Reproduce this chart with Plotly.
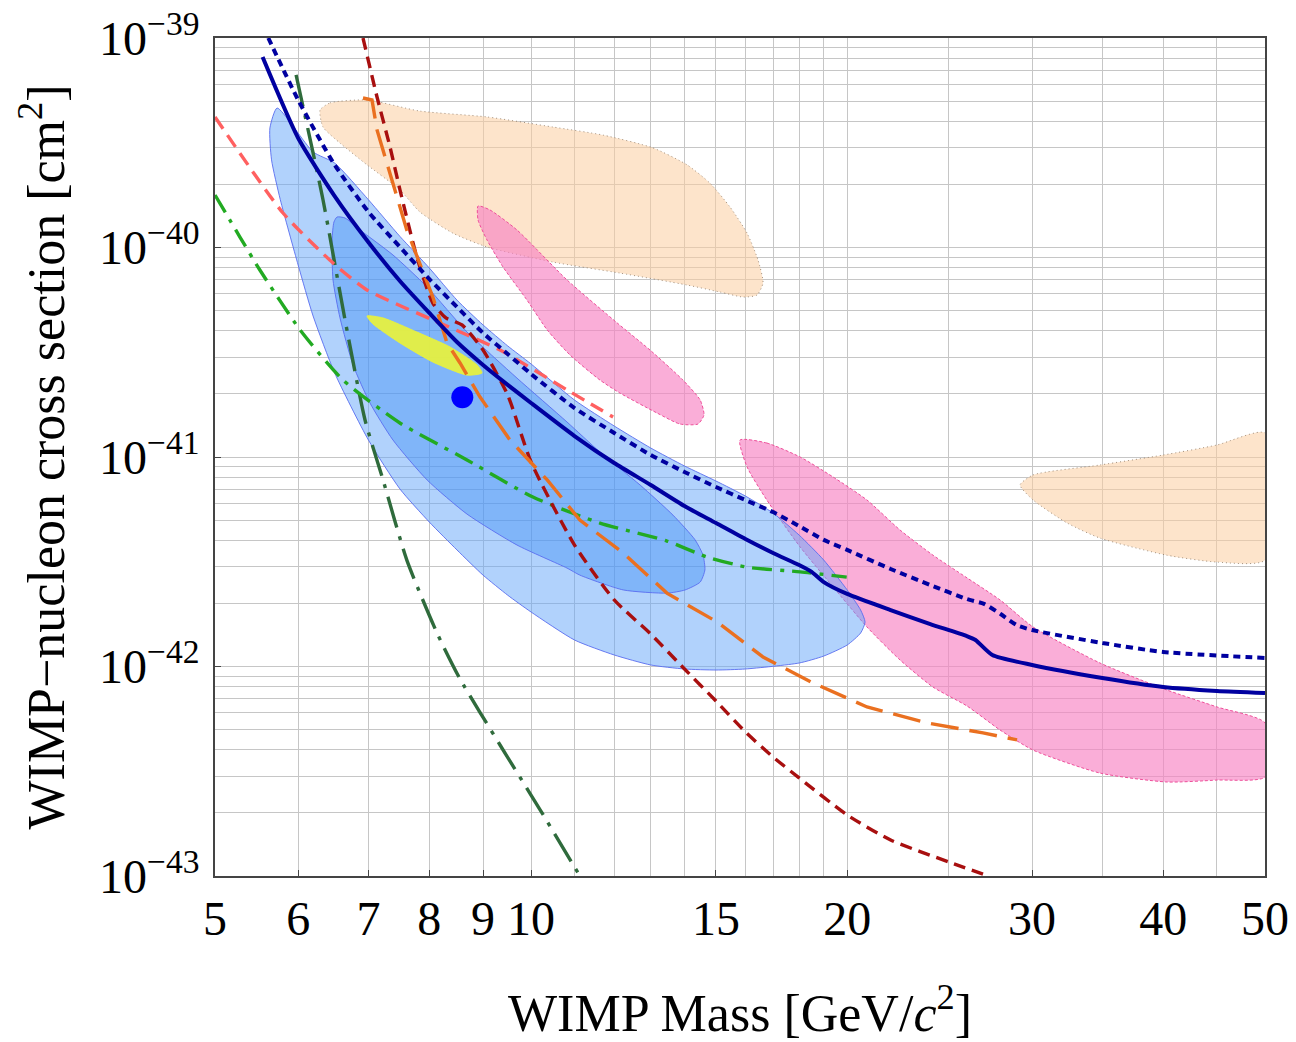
import plotly.graph_objects as go

# ---------------- data (WIMP mass in GeV/c^2, cross section in cm^2) ----------------
solid_x = [5.55, 6, 6.5, 7, 7.5, 8, 8.5, 9, 9.5, 10, 11, 12, 13, 14, 15, 16, 17, 18, 18.5, 19, 20,
           22, 24, 26, 26.5, 27.5, 30, 35, 40, 45, 50]
solid_y = [8.11e-40, 3.33e-40, 1.76e-40, 1.06e-40, 6.92e-41, 4.87e-41, 3.54e-41, 2.75e-41, 2.21e-41,
           1.81e-41, 1.259e-41, 9.36e-42, 7.35e-42, 5.83e-42, 4.84e-42, 4.06e-42, 3.48e-42, 3.05e-42,
           2.83e-42, 2.53e-42, 2.22e-42, 1.86e-42, 1.595e-42, 1.398e-42, 1.338e-42, 1.135e-42,
           1.017e-42, 8.81e-43, 7.98e-43, 7.64e-43, 7.47e-43]

dotted_x = [5.62, 6, 6.5, 7, 7.5, 8, 8.5, 9, 9.5, 10, 11, 12, 13, 14, 15, 16, 17, 18, 19, 20, 22, 24,
            26, 27, 28, 29, 30, 35, 40, 50]
dotted_y = [1e-39, 5.06e-40, 2.48e-40, 1.48e-40, 1.006e-40, 7.07e-41, 5.20e-41, 3.91e-41, 3.10e-41,
            2.49e-41, 1.713e-41, 1.302e-41, 1.022e-41, 8.48e-42, 7.19e-42, 6.23e-42, 5.46e-42,
            4.68e-42, 4.02e-42, 3.60e-42, 2.92e-42, 2.45e-42, 2.10e-42, 1.99e-42, 1.78e-42,
            1.578e-42, 1.493e-42, 1.295e-42, 1.173e-42, 1.098e-42]

darkred_x = [6.917, 7.133, 7.339, 7.502, 7.784, 8.062, 8.297, 8.595, 9, 9.5, 10, 11, 12, 13, 14, 15,
             16, 17, 18, 20, 22, 25, 27.24]
darkred_y = [1e-39, 5.23e-40, 3.02e-40, 1.88e-40, 9.01e-41, 5.43e-41, 4.61e-41, 4.27e-41, 3.24e-41,
             1.976e-41, 9.46e-42, 3.80e-42, 2.08e-42, 1.429e-42, 9.73e-43, 6.84e-43, 4.87e-43,
             3.70e-43, 2.94e-43, 1.955e-43, 1.485e-43, 1.166e-43, 1e-43]

orange_x = [6.917, 7.055, 7.133, 7.371, 7.615, 8.062, 8.316, 8.557, 8.941, 9.548, 10.36, 11.13,
            12.24, 13.47, 15.04, 16.63, 18.56, 20.89, 23.83, 26.94, 29.03]
orange_y = [5.17e-40, 5.06e-40, 3.64e-40, 2.10e-40, 1.211e-40, 5.80e-41, 3.50e-41, 2.81e-41,
            1.934e-41, 1.205e-41, 7.77e-42, 5.00e-42, 3.48e-42, 2.24e-42, 1.631e-42, 1.110e-42,
            8.34e-43, 6.41e-43, 5.38e-43, 4.82e-43, 4.46e-43]

salmon_x = [5.0, 5.804, 6.477, 6.978, 8.062, 9.342, 10.82, 11.97]
salmon_y = [4.20e-40, 1.461e-40, 8.43e-41, 6.27e-41, 4.51e-41, 3.24e-41, 2.09e-41, 1.552e-41]

green_x = [5.0, 5.281, 5.517, 6.026, 6.620, 7.5, 8.689, 10.04, 11.63, 13.47, 14.71, 16.06, 18.04, 19.98]
green_y = [1.78e-40, 1.122e-40, 7.81e-41, 4.04e-41, 2.33e-41, 1.453e-41, 9.68e-42, 6.44e-42,
           4.84e-42, 3.97e-42, 3.33e-42, 2.98e-42, 2.83e-42, 2.67e-42]

dkgreen_x = [5.973, 6.336, 6.650, 6.948, 7.228, 7.615, 8.136, 8.557, 9.342, 10.20, 11.13]
dkgreen_y = [6.66e-40, 1.69e-40, 4.51e-41, 1.502e-41, 7.77e-42, 3.22e-42, 1.445e-42, 8.72e-43,
             4.22e-43, 2.07e-43, 1e-43]

outer_x = [5.73, 6.2, 6.5, 7, 7.5, 8, 8.5, 9, 9.5, 10, 11, 12, 13, 14, 15, 16, 17, 18, 19, 20, 20.6,
           20.8, 20.6, 20, 19, 18, 16, 15, 14, 13, 12, 11, 10, 9.5, 9, 8.5, 8, 7.5, 7, 6.5, 6.2, 6,
           5.77, 5.66, 5.64]
outer_y = [4.63e-40, 2.86e-40, 2.53e-40, 1.69e-40, 1.13e-40, 7.98e-41, 5.61e-41, 4.27e-41, 3.39e-41,
           2.78e-41, 1.87e-41, 1.406e-41, 1.104e-41, 9.06e-42, 7.68e-42, 6.51e-42, 5.40e-42, 4.24e-42,
           3.22e-42, 2.32e-42, 1.86e-42, 1.63e-42, 1.445e-42, 1.266e-42, 1.122e-42, 1.039e-42,
           9.73e-43, 9.62e-43, 9.73e-43, 1.017e-42, 1.135e-42, 1.338e-42, 1.82e-42, 2.19e-42,
           2.73e-42, 3.60e-42, 4.89e-42, 7.04e-42, 1.205e-41, 2.52e-41, 4.71e-41, 8.25e-41,
           1.69e-40, 2.62e-40, 3.72e-40]

inner_x = [6.534, 6.650, 6.872, 7.387, 7.961, 8.689, 9.696, 10.82, 11.63, 12.70, 13.65, 14.33, 14.58,
           14.64, 14.49, 14.02, 13.47, 12.24, 11.13, 10.82, 9.696, 8.689, 7.961, 7.387, 7.024, 6.768,
           6.577, 6.477, 6.463, 6.49]
inner_y = [1.398e-40, 1.383e-40, 1.212e-40, 9.21e-41, 6.48e-41, 3.95e-41, 2.38e-41, 1.469e-41,
           1.056e-41, 7.35e-42, 5.28e-42, 4.02e-42, 3.40e-42, 2.89e-42, 2.53e-42, 2.32e-42, 2.24e-42,
           2.32e-42, 2.73e-42, 2.95e-42, 3.80e-42, 5.34e-42, 7.77e-42, 1.205e-41, 1.81e-41,
           2.75e-41, 4.61e-41, 7.0e-41, 1.086e-40, 1.323e-40]

yellow_x = [6.978, 7.228, 7.784, 8.371, 8.882, 8.980, 8.689, 8.062, 7.502, 7.071]
yellow_y = [4.71e-41, 4.61e-41, 3.95e-41, 3.35e-41, 2.75e-41, 2.52e-41, 2.46e-41, 2.84e-41,
            3.50e-41, 4.31e-41]

bestfit_x = [8.6]
bestfit_y = [1.93e-41]

peach1_x = [6.295, 6.434, 6.978, 7.837, 9.079, 10.49, 11.71, 13.06, 14.08, 14.80, 15.47, 16.06, 16.45,
            16.63, 16.41, 15.92, 15.13, 14.08, 12.15, 10.49, 9.079, 8.426, 7.837, 7.502, 6.978,
            6.577, 6.336]
peach1_y = [4.53e-40, 4.90e-40, 5.06e-40, 4.48e-40, 4.20e-40, 3.76e-40, 3.44e-40, 2.99e-40, 2.48e-40,
            2.03e-40, 1.56e-40, 1.17e-40, 8.71e-41, 6.77e-41, 5.93e-41, 5.80e-41, 6.13e-41, 6.62e-41,
            7.55e-41, 8.52e-41, 1.006e-40, 1.17e-40, 1.477e-40, 1.88e-40, 2.48e-40, 3.15e-40, 3.76e-40]

peach2_x = [29.22, 30.07, 34.82, 40, 45, 50, 50, 45, 40.3, 34.82, 32.4, 30.07]
peach2_y = [7.35e-42, 8.21e-42, 9.16e-42, 1.022e-41, 1.141e-41, 1.302e-41, 3.22e-42, 3.15e-42,
            3.40e-42, 4.10e-42, 4.84e-42, 6.23e-42]

pink1_x = [8.902, 9.139, 9.696, 10.82, 12.08, 12.98, 13.95, 14.49, 14.61, 14.42, 13.86, 13.18, 12.15,
           11.63, 10.89, 10.36, 9.911, 9.403, 9.079, 8.902]
pink1_y = [1.578e-40, 1.51e-40, 1.212e-40, 7.0e-41, 4.36e-41, 3.24e-41, 2.33e-41, 1.87e-41, 1.587e-41,
           1.437e-41, 1.437e-41, 1.622e-41, 2.02e-41, 2.33e-41, 3.07e-41, 4.04e-41, 5.61e-41,
           8.07e-41, 1.086e-40, 1.353e-40]

pink2_x = [15.81, 16.77, 18.04, 19.39, 20.89, 22.46, 24.14, 26.01, 27.96, 30.07, 34.82, 40.33, 45.01,
           50, 50, 45.01, 40.33, 34.82, 30.07, 27.96, 26.01, 24.14, 22.46, 20.89, 19.39, 18.04,
           16.77, 16.06]
pink2_y = [1.205e-41, 1.166e-41, 1.0e-41, 8.03e-42, 6.23e-42, 4.48e-42, 3.40e-42, 2.65e-42, 2.08e-42,
           1.543e-42, 1.039e-42, 7.72e-43, 6.41e-43, 5.38e-43, 2.97e-43, 2.87e-43, 2.81e-43,
           3.10e-43, 3.99e-43, 4.98e-43, 6.48e-43, 7.98e-43, 1.074e-42, 1.543e-42, 2.40e-42,
           3.72e-42, 6.23e-42, 8.96e-42]

x_ticks = [5, 6, 7, 8, 9, 10, 15, 20, 30, 40, 50]
x_ticktext = ["5", "6", "7", "8", "9", "10", "15", "20", "30", "40", "50"]
x_minor = [11, 12, 13, 14, 16, 17, 18, 19, 25, 35, 45]
y_exponents = [-43, -42, -41, -40, -39]

# ---------------- figure ----------------
FONT = "Liberation Serif, Times New Roman, serif"
fig = go.Figure()


def region(xs, ys, fill, line_color, dash, width=1):
    fig.add_trace(go.Scatter(x=xs + xs[:1], y=ys + ys[:1], mode="lines", fill="toself",
                             fillcolor=fill, line=dict(color=line_color, width=width, dash=dash,
                                                       shape="spline", smoothing=0.6),
                             hoverinfo="skip", showlegend=False))


def curve(xs, ys, color, width, dash, shape="spline"):
    fig.add_trace(go.Scatter(x=xs, y=ys, mode="lines",
                             line=dict(color=color, width=width, dash=dash, shape=shape, smoothing=0.6),
                             hoverinfo="skip", showlegend=False))


peach_fill = "rgba(251,205,160,0.55)"
pink_fill = "rgba(248,130,195,0.65)"
region(peach1_x, peach1_y, peach_fill, "rgba(140,120,100,0.8)", "1px,3px")
region(peach2_x, peach2_y, peach_fill, "rgba(140,120,100,0.8)", "1px,3px")
region(pink1_x, pink1_y, pink_fill, "#ee4f9a", "3px,2px")
region(pink2_x, pink2_y, pink_fill, "#ee4f9a", "3px,2px")
region(outer_x, outer_y, "rgba(100,165,250,0.5)", "rgba(90,110,240,0.9)", "solid")
region(inner_x, inner_y, "rgba(60,140,245,0.42)", "rgba(90,110,240,0.9)", "solid")
region(yellow_x, yellow_y, "rgba(232,242,60,0.92)", "rgba(232,242,60,0.92)", "solid")

curve(dkgreen_x, dkgreen_y, "#2f6b3c", 3.4, "32px,9px,4px,9px")
curve(green_x, green_y, "#22aa22", 3.4, "20px,8px,4px,8px")
curve(salmon_x, salmon_y, "#ff6060", 3.4, "14px,8px")
curve(darkred_x, darkred_y, "#a80f0f", 3.4, "12px,7px")
curve(orange_x, orange_y, "#ea7020", 3.4, "28px,11px", shape="linear")
curve(dotted_x, dotted_y, "#0000a0", 4, "7px,5px")
curve(solid_x, solid_y, "#0000a0", 4, "solid")

fig.add_trace(go.Scatter(x=bestfit_x, y=bestfit_y, mode="markers",
                         marker=dict(color="#0000ff", size=22, line=dict(width=0)),
                         hoverinfo="skip", showlegend=False))

y_tickvals = [10.0 ** e for e in y_exponents]
y_ticktext = ["10<sup>\u2212%d</sup>" % (-e) for e in y_exponents]
y_minor = [m * 10.0 ** e for e in y_exponents[:-1] for m in range(2, 10)]

axis_common = dict(showline=True, linecolor="#444444", linewidth=1.6, mirror=True,
                   showgrid=True, gridcolor="#c6c6c6", gridwidth=1.4, zeroline=False,
                   ticks="inside", ticklen=6, tickcolor="#444444",
                   tickfont=dict(family=FONT, size=48, color="black"))

fig.update_xaxes(type="log", range=[0.69897, 1.69897], tickmode="array",
                 tickvals=x_ticks, ticktext=x_ticktext, ticklabelstandoff=0,
                 minor=dict(tickmode="array", tickvals=x_minor, showgrid=True,
                            gridcolor="#c6c6c6", gridwidth=1.4, ticks=""),
                 title=dict(text="WIMP Mass [GeV/<i>c</i><sup>2</sup>]",
                            font=dict(family=FONT, size=52, color="black"), standoff=50),
                 **axis_common)
fig.update_yaxes(type="log", range=[-43, -39], tickmode="array",
                 tickvals=y_tickvals, ticktext=y_ticktext, ticklabelstandoff=4,
                 minor=dict(tickmode="array", tickvals=y_minor, showgrid=True,
                            gridcolor="#c6c6c6", gridwidth=1.4, ticks=""),
                 title=dict(text="WIMP\u2212nucleon cross section [cm<sup>2</sup>]",
                            font=dict(family=FONT, size=52, color="black"), standoff=18),
                 **axis_common)

fig.update_layout(width=1296, height=1042, autosize=False,
                  margin=dict(l=215, r=31, t=38, b=166, autoexpand=False),
                  paper_bgcolor="white", plot_bgcolor="white",
                  font=dict(family=FONT, color="black"))

fig.write_html("out.html")
